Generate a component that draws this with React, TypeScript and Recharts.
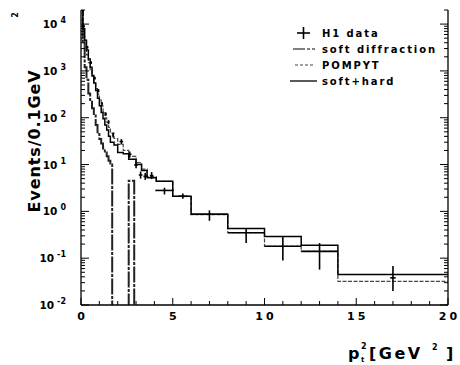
import React from 'react';
import { ComposedChart, Line, Scatter, XAxis, YAxis, ErrorBar } from 'recharts';

// histogram bin edges in pt^2 (GeV^2)
const binEdges = [0, 0.1, 0.2, 0.3, 0.4, 0.5, 0.6, 0.7, 0.8, 0.9, 1.0, 1.1, 1.2, 1.3, 1.4, 1.5, 1.6, 1.8, 2.0, 2.3, 2.6, 3.0, 3.3, 3.6, 4.1, 5.0, 6.0, 8.0, 10, 12, 14, 20];
const softHard = [25000, 8000, 4500, 2800, 1800, 1200, 800, 550, 380, 260, 180, 130, 95, 70, 55, 40, 30, 26, 18, 17, 13, 10, 7.5, 5.2, 4.4, 2.1, 0.87, 0.43, 0.29, 0.19, 0.045];
const pompyt = [12000, 5500, 3300, 2200, 1500, 1050, 760, 560, 420, 320, 240, 180, 135, 100, 80, 62, 47, 36, 27, 20, 15, 11, 8, 5.5, 4.4, 2.1, 0.85, 0.35, 0.18, 0.14, 0.032];

const softDiffEdges = [0, 0.1, 0.2, 0.3, 0.4, 0.5, 0.6, 0.7, 0.8, 0.9, 1.0, 1.1, 1.2, 1.3, 1.4, 1.5, 1.6, 1.7, 2.6, 2.9, 3.0];
const softDiff = [30000, 4000, 1200, 650, 330, 220, 160, 120, 70, 45, 35, 28, 22, 18, 15, 12, 10, 0.001, 4.5, 0.001];

// H1 data points
const h1X = [0.15, 0.35, 0.55, 0.75, 0.95, 1.15, 1.35, 1.5, 1.75, 2.2, 2.65, 3.0, 3.25, 3.5, 3.85, 4.55, 5.55, 7, 9, 11, 13, 17];
const h1Y = [9000, 3200, 1500, 700, 380, 200, 120, 81, 43, 31, 16.6, 9.8, 6.0, 5.6, 5.8, 2.8, 2.1, 0.87, 0.35, 0.18, 0.14, 0.038];
const h1Lo = [8400, 3000, 1400, 650, 350, 185, 110, 73, 38, 27, 14, 8.3, 5.0, 4.7, 4.9, 2.3, 1.85, 0.63, 0.21, 0.089, 0.057, 0.02];
const h1Hi = [9600, 3400, 1600, 750, 410, 215, 130, 89, 48, 35, 19, 11.5, 7.1, 6.6, 6.9, 3.2, 2.4, 1.05, 0.42, 0.29, 0.21, 0.068];
const h1XErr = [0.05, 0.05, 0.05, 0.05, 0.05, 0.05, 0.05, 0.05, 0.05, 0.1, 0.1, 0.1, 0.1, 0.1, 0.1, 0.5, 0.25, 1, 1, 1, 1, 0.15];

const xTicks = [0, 1, 2, 3, 4, 5, 6, 7, 8, 9, 10, 11, 12, 13, 14, 15, 16, 17, 18, 19, 20];
const yDecades = [0.01, 0.1, 1, 10, 100, 1000, 10000];
const yMinor = [1, 2, 3, 4, 5, 6, 7, 8, 9];

const yTicks: number[] = [];
yDecades.forEach((d) => yMinor.forEach((m) => { if (m * d <= 20000) yTicks.push(m * d); }));

const toSteps = (edges: number[], vals: number[]) =>
    edges.map((x, i) => ({ x, y: vals[Math.min(i, vals.length - 1)] }));

const softHardSteps = toSteps(binEdges, softHard);
const pompytSteps = toSteps(binEdges, pompyt);
const softDiffSteps = toSteps(softDiffEdges, softDiff);

const h1Table = h1X.map((x, i) => ({
    x,
    y: h1Y[i],
    ey: [h1Y[i] - h1Lo[i], h1Hi[i] - h1Y[i]],
    ex: h1XErr[i],
}));

const font = 'DejaVu Sans, Arial, sans-serif';

const isDecade = (v: number) => {
    const e = Math.round(Math.log10(v));
    return Math.abs(v - Math.pow(10, e)) < v * 1e-6;
};

const LeftTick = (props: any) => {
    const { x, y, payload } = props;
    const v = payload.value;
    const major = isDecade(v);
    const e = Math.round(Math.log10(v));
    return (
        <g>
            <line x1={x} x2={x + (major ? 8 : 4)} y1={y} y2={y} stroke="#000" strokeWidth={1} />
            {major && (
                <text x={x - 15} y={y + 4} textAnchor="end" fontFamily={font} fontWeight="bold" fontSize={10.5} fill="#000">
                    <tspan>10</tspan>
                    <tspan dx={3} dy={-5} fontSize={8}>{e}</tspan>
                </text>
            )}
        </g>
    );
};

const RightTick = (props: any) => {
    const { x, y, payload } = props;
    const major = isDecade(payload.value);
    return <line x1={x} x2={x - (major ? 8 : 4)} y1={y} y2={y} stroke="#000" strokeWidth={1} />;
};

const BottomTick = (props: any) => {
    const { x, y, payload } = props;
    const major = payload.value % 5 === 0;
    return (
        <g>
            <line x1={x} x2={x} y1={y} y2={y - (major ? 7 : 4)} stroke="#000" strokeWidth={1} />
            {major && (
                <text x={x + 1.5} y={y + 15} textAnchor="middle" fontFamily={font} fontWeight="bold" fontSize={11} letterSpacing={3} fill="#000">
                    {payload.value}
                </text>
            )}
        </g>
    );
};

const TopTick = (props: any) => {
    const { x, y, payload } = props;
    const major = payload.value % 5 === 0;
    return <line x1={x} x2={x} y1={y} y2={y + (major ? 7 : 4)} stroke="#000" strokeWidth={1} />;
};

const legendRows = [
    { label: 'H1 data', y: 33 },
    { label: 'soft diffraction', y: 49 },
    { label: 'POMPYT', y: 65 },
    { label: 'soft+hard', y: 81 },
];

export default function App() {
    return (
        <div style={{ position: 'absolute', left: 0, top: 0, width: 460, height: 365, background: '#fff' }}>
            <ComposedChart width={460} height={365} margin={{ top: 10, right: 11, bottom: 0, left: 0 }}>
                <XAxis
                    dataKey="x"
                    type="number"
                    domain={[0, 20]}
                    ticks={xTicks}
                    interval={0}
                    allowDataOverflow
                    height={60}
                    tickSize={0}
                    tickMargin={0}
                    tickLine={false}
                    axisLine={{ stroke: '#000', strokeWidth: 1.3 }}
                    tick={<BottomTick />}
                />
                <XAxis
                    xAxisId="top"
                    orientation="top"
                    type="number"
                    domain={[0, 20]}
                    ticks={xTicks}
                    interval={0}
                    allowDataOverflow
                    height={0}
                    tickSize={0}
                    tickMargin={0}
                    tickLine={false}
                    axisLine={{ stroke: '#000', strokeWidth: 1.3 }}
                    tick={<TopTick />}
                />
                <YAxis
                    scale="log"
                    type="number"
                    domain={[0.01, 20000]}
                    ticks={yTicks}
                    interval={0}
                    allowDataOverflow
                    width={81}
                    tickSize={0}
                    tickMargin={0}
                    tickLine={false}
                    axisLine={{ stroke: '#000', strokeWidth: 1.3 }}
                    tick={<LeftTick />}
                />
                <YAxis
                    yAxisId="right"
                    orientation="right"
                    scale="log"
                    type="number"
                    domain={[0.01, 20000]}
                    ticks={yTicks}
                    interval={0}
                    allowDataOverflow
                    width={1}
                    tickSize={0}
                    tickMargin={0}
                    tickLine={false}
                    axisLine={{ stroke: '#000', strokeWidth: 1.3 }}
                    tick={<RightTick />}
                />
                <Line
                    data={softDiffSteps}
                    dataKey="y"
                    type="stepAfter"
                    stroke="#222"
                    strokeWidth={2}
                    strokeDasharray="16 1.5 3 1.5"
                    dot={false}
                    isAnimationActive={false}
                />
                <Line
                    data={pompytSteps}
                    dataKey="y"
                    type="stepAfter"
                    stroke="#444"
                    strokeWidth={1.2}
                    strokeDasharray="4 1.5"
                    dot={false}
                    isAnimationActive={false}
                />
                <Line
                    data={softHardSteps}
                    dataKey="y"
                    type="stepAfter"
                    stroke="#000"
                    strokeWidth={1.5}
                    dot={false}
                    isAnimationActive={false}
                />
                <Scatter data={h1Table} dataKey="y" shape={() => <g />} isAnimationActive={false}>
                    <ErrorBar dataKey="ey" direction="y" width={0} stroke="#000" strokeWidth={1.6} isAnimationActive={false} />
                    <ErrorBar dataKey="ex" direction="x" width={0} stroke="#000" strokeWidth={1.6} isAnimationActive={false} />
                </Scatter>
            </ComposedChart>

            <svg width={460} height={365} style={{ position: 'absolute', left: 0, top: 0, pointerEvents: 'none' }}>
                {/* y title */}
                <text transform="translate(40,141) rotate(-90)" textAnchor="middle" fontFamily={font} fontWeight="bold" fontSize={16} letterSpacing={0.9} fill="#000">
                    Events/0.1GeV
                </text>
                <text transform="translate(18,15) rotate(-90)" textAnchor="middle" fontFamily={font} fontWeight="bold" fontSize={8} fill="#000">
                    2
                </text>

                {/* x title */}
                <g fontFamily={font} fontWeight="bold" fill="#000">
                    <text x={348} y={359} fontSize={16}>p</text>
                    <text x={361} y={349} fontSize={8}>2</text>
                    <text x={361} y={362} fontSize={7}>t</text>
                    <text x={369} y={359} fontSize={16} letterSpacing={2.5}>[GeV</text>
                    <text x={432} y={350} fontSize={8}>2</text>
                    <text x={446} y={359} fontSize={16}>]</text>
                </g>

                {/* legend */}
                <g>
                    <line x1={297} x2={310} y1={legendRows[0].y} y2={legendRows[0].y} stroke="#000" strokeWidth={1.6} />
                    <line x1={303.5} x2={303.5} y1={legendRows[0].y - 6} y2={legendRows[0].y + 6} stroke="#000" strokeWidth={1.6} />
                    <line x1={293} x2={315} y1={legendRows[1].y} y2={legendRows[1].y} stroke="#555" strokeWidth={1.3} strokeDasharray="12 2 3 2" />
                    <line x1={295} x2={315} y1={legendRows[2].y} y2={legendRows[2].y} stroke="#444" strokeWidth={1.2} strokeDasharray="3 2" />
                    <line x1={290} x2={317} y1={legendRows[3].y} y2={legendRows[3].y} stroke="#000" strokeWidth={1.3} />
                    {legendRows.map((r) => (
                        <text key={r.label} x={322} y={r.y + 4} fontFamily={font} fontWeight="bold" fontSize={10} letterSpacing={1.9} fill="#000">
                            {r.label}
                        </text>
                    ))}
                </g>
            </svg>
        </div>
    );
}
